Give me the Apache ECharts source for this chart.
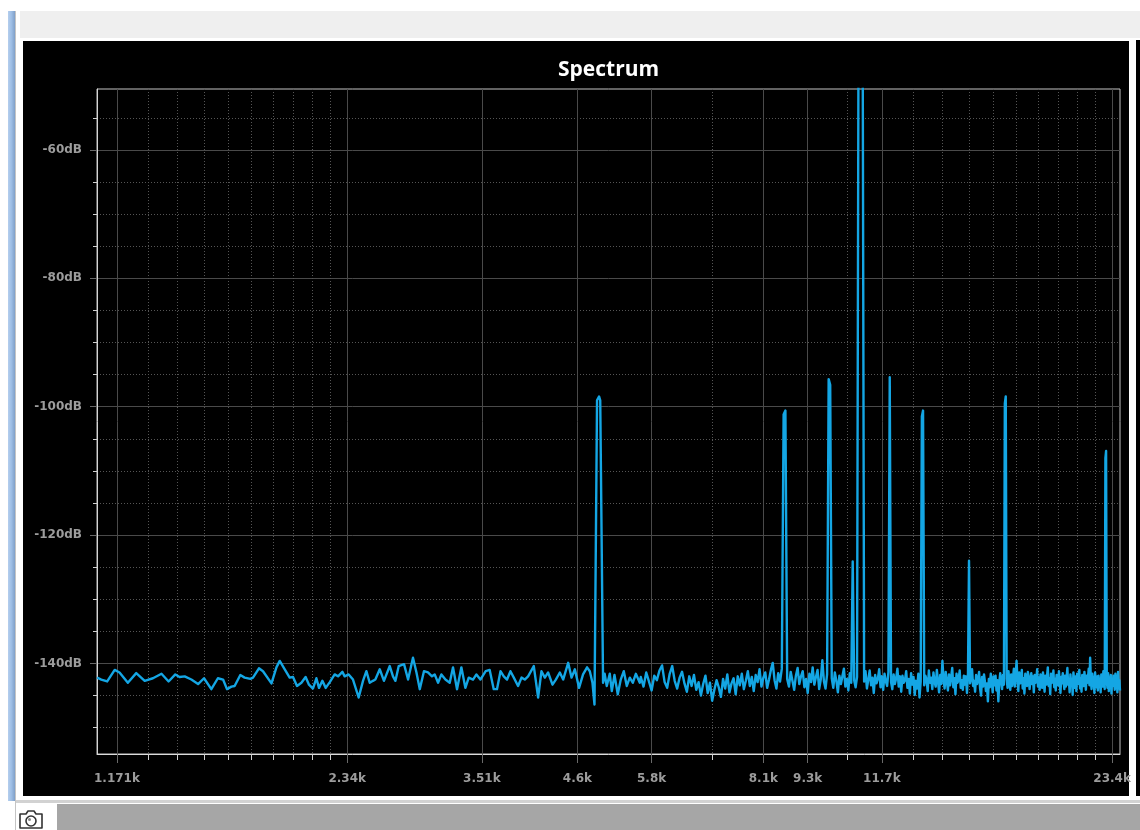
<!DOCTYPE html>
<html>
<head>
<meta charset="utf-8">
<script src="https://cdn.jsdelivr.net/npm/echarts@6/dist/echarts.min.js"></script>
<style>
  html, body { margin: 0; padding: 0; background: #ffffff; width: 1140px; height: 830px; overflow: hidden; }
  .deco { position: absolute; }
  #chart { position: absolute; left: 0; top: 0; width: 1140px; height: 830px; }
</style>
</head>
<body>
<div class="deco" style="left:8px;top:11px;width:7px;height:790px;background:linear-gradient(to right,#b5cfee,#9dbde4,#7f9fc8);"></div>
<div class="deco" style="left:15px;top:11px;width:1px;height:819px;background:#c4c4c4;"></div>
<div class="deco" style="left:20px;top:11px;width:1120px;height:27px;background:#efefef;"></div>
<div class="deco" style="left:23px;top:41px;width:1106px;height:755px;background:#000000;"></div>
<div class="deco" style="left:1136px;top:40px;width:4px;height:756px;background:#000000;"></div>
<div class="deco" style="left:16px;top:800px;width:1124px;height:3px;background:#d2d2d2;"></div>
<div class="deco" style="left:57px;top:804px;width:1083px;height:26px;background:#a6a6a6;"></div>
<svg class="deco" style="left:17px;top:806px;" width="28" height="24" viewBox="0 0 28 24">
  <path d="M3 8 h6 l2 -3 h6 l2 3 h6 v14 h-22 z" fill="none" stroke="#333" stroke-width="1.6" stroke-linejoin="round"/>
  <circle cx="14" cy="15" r="5" fill="none" stroke="#333" stroke-width="1.6"/>
  <circle cx="12.5" cy="13.5" r="1.5" fill="#888"/>
</svg>
<div id="chart"></div>
<script>
// ---- data ----
// low-frequency part: [frequency in Hz, level in dB]
const lowFreqHz = [1104,1118,1138,1164,1181,1211,1242,1274,1306,1340,1369,1397,1415,1437,1466,1496,1523,1557,1588,1613,
  1632,1654,1670,1699,1721,1751,1765,1797,1819,1866,1894,1913,1942,1971,1991,2015,2042,2068,2089,2114,2136,2153,2175,2197,2224,2257,2280,2310,2326,2354,
  2385,2426,2458,2483,2508,2533,2551,2585,2618,2664,2690,2710,2737,2781,2815,2857,2887,2916,2953,2989,3025,3050,3081,3112,3150,3191,3223,3262,3305,3345,3379,
  3423,3458,3500,3556,3599,3643,3679,3718,3755,3792,3831,3870,3920,3961,4000,4040,4110,4164,4206,4249,4291,4348,4392,4445,4490,4558,4605,4651,4710,4767,4825,4865,4904,4934,
  4972,5002,5020,5063,
  5087,5120,5166,5198,5240,5292,5340,5389,5438,5487,5537,5588,5655];
const lowDb = [-142.2,-142.5,-142.8,-141.0,-141.4,-143.0,-141.5,-142.7,-142.3,-141.6,-142.8,-141.7,-142.1,-142.0,-142.5,-143.2,-142.3,-144.0,-142.3,-142.5,
  -144.0,-143.6,-143.5,-141.8,-142.2,-142.4,-142.2,-140.75,-141.2,-143.1,-140.6,-139.6,-140.9,-142.2,-142.1,-143.5,-143.0,-142.1,-143.3,-143.9,-142.3,-143.8,-142.7,-143.8,-142.9,-141.7,-142.0,-141.3,-142.0,-141.7,
  -142.5,-145.3,-142.7,-141.2,-143.0,-142.7,-142.5,-140.9,-142.7,-140.4,-142.0,-142.7,-140.4,-140.1,-142.5,-139.1,-141.4,-144.0,-141.2,-141.4,-142.0,-141.7,-143.0,-141.7,-142.5,-143.0,-140.6,-144.0,-140.6,-143.8,-142.2,
  -142.5,-141.7,-142.5,-141.2,-141.0,-144.0,-144.0,-141.2,-142.0,-142.5,-141.2,-142.2,-143.5,-142.2,-142.5,-142.0,-140.4,-145.3,-141.2,-142.2,-141.4,-143.3,-142.5,-141.4,-142.5,-139.9,-142.2,-140.9,-143.8,-141.7,-140.6,-141.2,-143.0,-146.4,
  -99.0,-98.4,-99.0,-143.0,
  -141.6,-143.5,-141.6,-144.3,-141.8,-144.8,-142.5,-141.2,-143.5,-142.2,-143.0,-141.6,-143.0];

// high-frequency part: one level per FFT bin (bin width binHz), starting at bin highFirstBin
const binHz = 46.875;
const highFirstBin = 121;
const highDb = [
  -142.1,-143.6,-141.4,-142.8,-144.2,-141.9,-142.6,-141.1,-140.3,-142.9,
  -143.8,-141.6,-140.4,-142.7,-143.9,-142.2,-141.3,-143.1,-144.4,-142.0,
  -143.5,-141.8,-144.1,-142.9,-145.0,-143.2,-141.9,-144.6,-143.0,-145.8,
  -144.1,-142.6,-143.7,-145.2,-142.4,-143.9,-141.7,-144.5,-143.1,-142.3,
  -144.8,-142.0,-143.4,-141.6,-144.0,-142.7,-141.2,-143.5,-142.1,-144.3,
  -141.8,-142.9,-140.9,-143.6,-142.2,-141.4,-143.8,-142.5,-141.0,-139.9,
  -142.6,-143.9,-141.5,-142.8,-140.8,-101.2,-100.6,-142.4,-143.6,-141.3,
  -142.7,-144.1,-141.9,-140.7,-143.2,-142.0,-141.2,-143.7,-142.4,-144.6,
  -141.6,-142.9,-140.6,-143.3,-142.1,-141.0,-144.0,-142.5,-139.5,-142.8,
  -143.9,-141.7,-95.7,-96.6,-142.3,-143.8,-141.4,-142.7,-144.5,-141.9,
  -143.2,-142.0,-140.8,-143.6,-142.4,-144.2,-141.5,-143.0,-124.1,-142.6,
  -143.7,-142.1,-45,-10,-10,-45,-142.8,-141.2,-143.9,-142.5,
  -141.1,-143.4,-142.2,-144.6,-141.8,-143.1,-142.4,-140.9,-143.7,-142.0,
  -144.1,-141.6,-142.8,-143.5,-141.3,-95.4,-142.9,-144.0,-141.7,-143.2,
  -142.3,-140.8,-143.6,-142.0,-144.4,-141.9,-143.0,-142.6,-141.2,-143.8,
  -142.4,-144.7,-141.5,-143.3,-142.1,-144.9,-142.7,-143.9,-141.6,-145.3,
  -142.8,-101.5,-100.6,-143.4,-141.9,-142.5,-144.3,-141.1,-143.0,-142.2,
  -144.0,-141.4,-142.9,-143.6,-141.0,-142.7,-144.5,-141.8,-143.2,-139.6,
  -142.5,-143.9,-141.3,-142.8,-144.2,-141.7,-143.4,-142.1,-140.7,-143.7,
  -142.3,-144.8,-141.6,-143.0,-142.4,-141.1,-143.8,-142.6,-144.1,-141.9,
  -143.3,-142.0,-144.6,-141.5,-124.0,-143.1,-142.2,-140.9,-143.5,-142.7,
  -144.4,-141.8,-143.2,-142.5,-141.3,-143.9,-145.0,-142.1,-143.6,-141.7,
  -142.9,-144.3,-143.1,-145.9,-142.4,-143.7,-141.6,-142.8,-144.5,-142.0,
  -143.4,-141.9,-144.2,-142.6,-145.9,-143.0,-141.5,-142.7,-144.0,-141.8,
  -143.3,-99.5,-98.4,-142.4,-143.8,-141.2,-142.9,-144.1,-141.7,-143.5,
  -142.2,-140.8,-143.6,-142.0,-139.6,-142.5,-144.3,-141.4,-143.1,-142.6,
  -141.0,-143.9,-142.3,-144.7,-141.6,-142.8,-143.5,-141.3,-142.1,-144.0,
  -142.7,-141.5,-143.2,-142.0,-144.5,-141.8,-143.0,-142.4,-140.9,-143.6,
  -142.2,-144.1,-141.7,-142.9,-143.8,-141.4,-142.6,-144.4,-141.9,-143.3,
  -142.0,-140.6,-143.5,-142.3,-144.8,-141.6,-143.0,-142.5,-141.1,-143.7,
  -142.4,-144.2,-141.8,-142.9,-143.4,-141.2,-142.7,-144.6,-142.1,-143.1,
  -141.5,-142.8,-144.0,-141.9,-143.6,-142.2,-140.7,-143.3,-142.6,-144.5,
  -141.7,-143.0,-142.4,-144.9,-141.4,-142.7,-143.8,-142.0,-144.3,-141.6,
  -143.2,-142.5,-141.0,-143.9,-142.3,-144.4,-141.8,-142.9,-143.5,-141.3,
  -142.6,-144.1,-141.9,-143.0,-142.2,-140.8,-143.4,-139.1,-142.7,-144.0,
  -141.6,-143.3,-142.1,-144.6,-141.4,-142.8,-143.7,-142.0,-144.2,-141.9,
  -143.1,-142.4,-144.5,-141.7,-142.9,-143.6,-141.2,-142.5,-144.0,-108.0,
  -106.9,-142.6,-143.8,-141.5,-144.3,-142.2,-143.0,-141.8,-144.7,-142.4,
  -143.5,-141.9,-142.8,-144.1,-141.6,-143.3,-142.0,-144.5,-141.3,-143.0,
  -142.6,-144.2];

// axis ranges and ticks
const xRangeHz = [1103.6, 24000];
const yRangeDb = [-154.1, -50.5];
const xMajorHz = [1171.875, 2343.75, 3515.625, 4687.5, 5859.375, 8203.125, 9375, 11718.75, 23437.5];
const xMajorLabels = ['1.171k', '2.34k', '3.51k', '4.6k', '5.8k', '8.1k', '9.3k', '11.7k', '23.4k'];
const xMinorHz = [1289.0625, 1406.25, 1523.4375, 1640.625, 1757.8125, 1875, 1992.1875, 2109.375, 2226.5625,
  7031.25, 10546.875, 12890.625, 14062.5, 15234.375, 16406.25, 17578.125, 18750, 19921.875, 21093.75, 22265.625];
const yMajorDb = [-140, -120, -100, -80, -60];
const yMinorDb = [-150, -145, -135, -130, -125, -115, -110, -105, -95, -90, -85, -75, -70, -65, -55];
const titleText = 'Spectrum';

// ---- build chart ----
const lg = Math.log2;
const points = lowFreqHz.map((f, i) => [lg(f), lowDb[i]])
  .concat(highDb.map((d, i) => [lg((highFirstBin + i) * binHz), d]));

const labelFont = { color: '#9c9c9c', fontFamily: 'DejaVu Sans', fontWeight: 'bold', fontSize: 12 };
const majorGrid = { show: true, lineStyle: { color: '#4a4a4a', width: 1, type: 'solid' } };
const minorGrid = { show: true, lineStyle: { color: '#555555', width: 1, type: [1, 2] } };

const chart = echarts.init(document.getElementById('chart'), null, { renderer: 'canvas' });
chart.setOption({
  backgroundColor: 'transparent',
  animation: false,
  title: {
    text: titleText, left: 558, top: 60, padding: 0,
    textStyle: { color: '#ffffff', fontFamily: 'Open Sans', fontWeight: 'bold', fontSize: 21 }
  },
  grid: { left: 97, right: 20, top: 89, bottom: 76, show: true, borderColor: '#c4c4c4', borderWidth: 1, backgroundColor: 'transparent' },
  xAxis: [
    {
      type: 'value', position: 'bottom', min: lg(xRangeHz[0]), max: lg(xRangeHz[1]),
      axisLine: { show: true, lineStyle: { color: '#dcdcdc', width: 1 } },
      axisTick: { show: true, customValues: xMajorHz.map(lg), length: 9, lineStyle: { color: '#6a6a6a' } },
      axisLabel: Object.assign({
        customValues: xMajorHz.map(lg), margin: 19,
        formatter: v => { const i = xMajorHz.findIndex(h => Math.abs(lg(h) - v) < 1e-6); return i >= 0 ? xMajorLabels[i] : ''; }
      }, labelFont),
      splitLine: majorGrid
    },
    {
      type: 'value', position: 'bottom', min: lg(xRangeHz[0]), max: lg(xRangeHz[1]),
      axisLine: { show: false },
      axisTick: { show: true, customValues: xMinorHz.map(lg), length: 6, lineStyle: { color: '#d0d0d0' } },
      axisLabel: { show: false },
      splitLine: minorGrid
    }
  ],
  yAxis: [
    {
      type: 'value', position: 'left', min: yRangeDb[0], max: yRangeDb[1],
      axisLine: { show: true, lineStyle: { color: '#d4d4d4', width: 1 } },
      axisTick: { show: true, customValues: yMajorDb, length: 7, lineStyle: { color: '#6a6a6a' } },
      axisLabel: Object.assign({ customValues: yMajorDb, margin: 15, formatter: v => v + 'dB' }, labelFont),
      splitLine: majorGrid
    },
    {
      type: 'value', position: 'left', min: yRangeDb[0], max: yRangeDb[1],
      axisLine: { show: false },
      axisTick: { show: true, customValues: yMinorDb, length: 4, lineStyle: { color: '#d0d0d0' } },
      axisLabel: { show: false },
      splitLine: minorGrid
    }
  ],
  series: [{
    type: 'line', xAxisIndex: 0, yAxisIndex: 0, data: points,
    showSymbol: false, symbol: 'none', smooth: false, clip: true, sampling: false,
    lineStyle: { color: '#14a6e4', width: 2.4, join: 'round' }
  }]
});
</script>
</body>
</html>
